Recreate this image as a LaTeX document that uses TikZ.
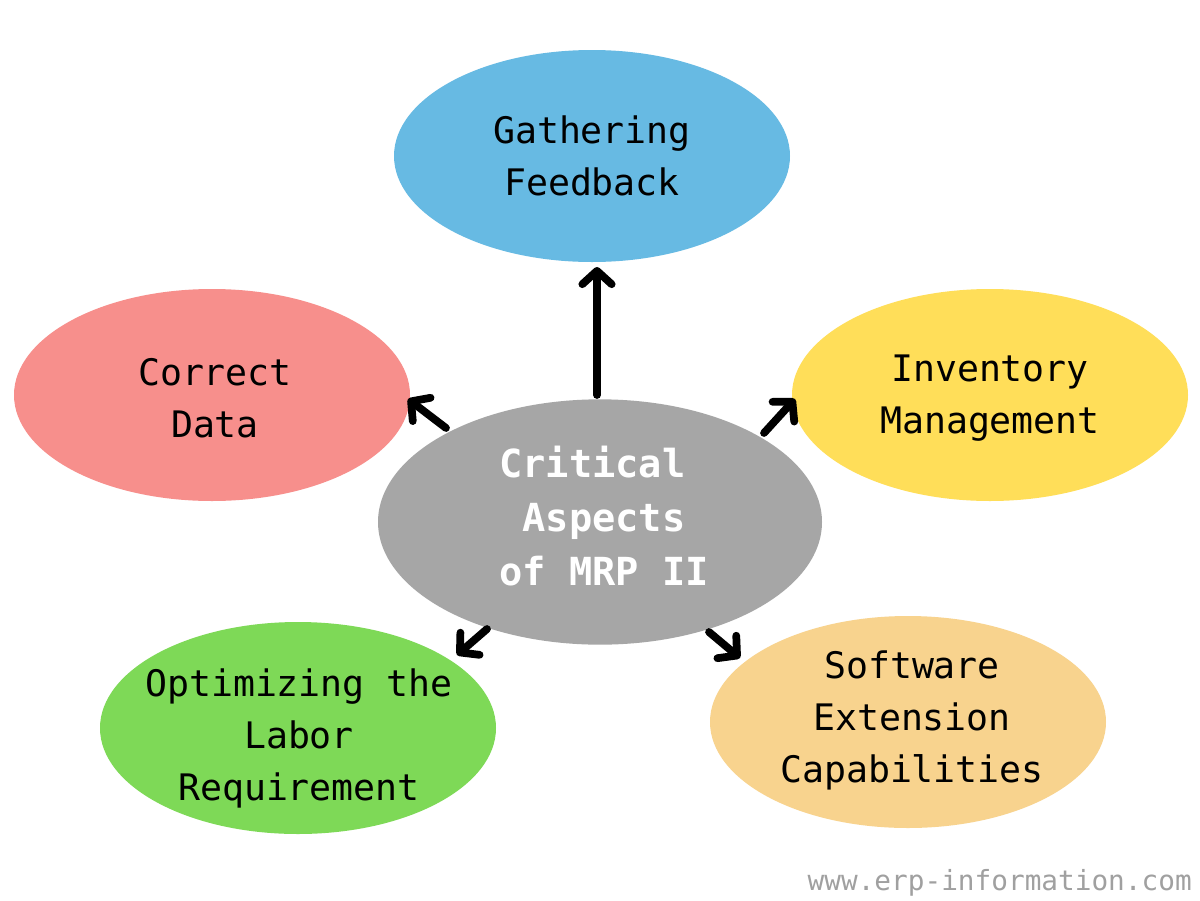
\documentclass[tikz,border=0pt]{standalone}
\usepackage{fontspec}
\setmonofont{DejaVu Sans Mono}
\usetikzlibrary{shapes.geometric,arrows.meta}
\definecolor{cblue}{HTML}{67BAE3}
\definecolor{cred}{HTML}{F78F8C}
\definecolor{cyellow}{HTML}{FFDE59}
\definecolor{cgray}{HTML}{A6A6A6}
\definecolor{cgreen}{HTML}{7ED957}
\definecolor{corange}{HTML}{F8D38E}
\definecolor{cmark}{HTML}{A0A0A0}
\tikzset{
  blob/.style={ellipse, inner sep=0pt, minimum width=297pt, minimum height=159pt},
  lbl/.style={align=center, font=\ttfamily\fontsize{27.4}{39}\selectfont, text=black},
  clbl/.style={align=center, font=\ttfamily\bfseries\fontsize{29}{40.5}\selectfont, text=white},
  arr/.style={line width=5.8pt, line cap=round, -{Straight Barb[round, length=10pt, width=22pt]}}
}
\begin{document}
\begin{tikzpicture}[x=0.75pt, y=-0.75pt]
\useasboundingbox[fill=white] (0,0) rectangle (1200,900);
\node[blob, fill=cblue] (top) at (592,156) {};
\node[blob, fill=cred] (lft) at (212,395) {};
\node[blob, fill=cyellow] (rgt) at (990,395) {};
\node[blob, fill=cgreen] (bl) at (298,728) {};
\node[blob, fill=corange] (br) at (908,722) {};
\node[ellipse, inner sep=0pt, minimum width=333pt, minimum height=184pt, fill=cgray] (ctr) at (600,522) {};

\node[lbl] (ttop) at (top.center) {Gathering\\Feedback};
\node[lbl] (tlft) at (215,398) {Correct\\Data};
\node[lbl] (trgt) at (990,398) {Inventory\\Management};
\node[lbl] (tbl) at (299,738) {Optimizing the\\Labor\\Requirement};
\node[lbl] (tbr) at (912,720) {Software\\Extension\\Capabilities};
\node[clbl] (tctr) at (604,516) {Critical\hphantom{x}\\Aspects\\of MRP II};

\coordinate (s1) at (597,395); \coordinate (e1) at (597,267);
\coordinate (s2) at (446,428); \coordinate (e2) at (408,399);
\coordinate (s3) at (764,433); \coordinate (e3) at (795,399);
\coordinate (s4) at (487,629); \coordinate (e4) at (457,655);
\coordinate (s5) at (709,632); \coordinate (e5) at (740,658);
\draw[arr] (s1) -- (e1);
\draw[arr] (s2) -- (e2);
\draw[arr] (s3) -- (e3);
\draw[arr] (s4) -- (e4);
\draw[arr] (s5) -- (e5);

\node[anchor=base east, inner sep=0pt, text=cmark, font=\ttfamily\fontsize{20.8}{24}\selectfont] (wm) at (1192,890) {www.erp-information.com};
\end{tikzpicture}
\end{document}
